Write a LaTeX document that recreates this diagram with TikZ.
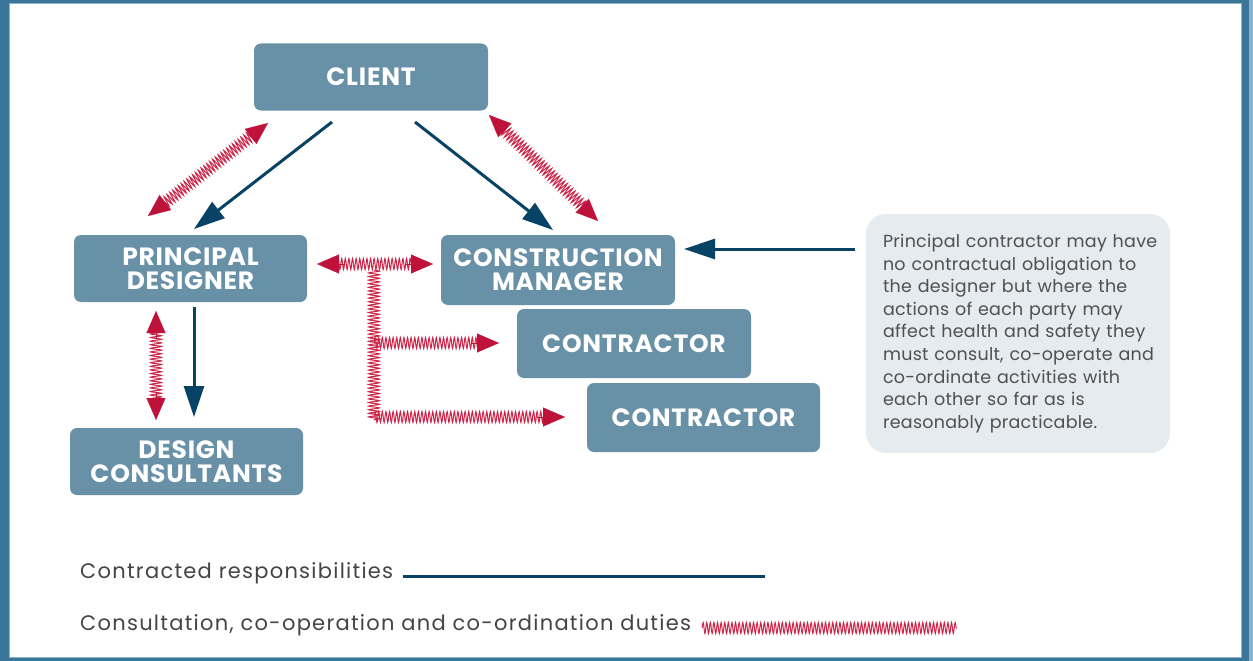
\documentclass[tikz,border=0pt]{standalone}
\usepackage{fontspec}
\setmainfont{Poppins}
\usetikzlibrary{arrows.meta,decorations.pathmorphing,calc}
\definecolor{frameblue}{RGB}{58,117,154}
\definecolor{framelight}{RGB}{140,178,204}
\definecolor{boxfill}{RGB}{104,145,168}
\definecolor{navy}{RGB}{8,67,101}
\definecolor{crimson}{RGB}{190,18,58}
\definecolor{zzred}{RGB}{205,40,75}
\definecolor{notefill}{RGB}{230,235,239}
\definecolor{txtgray}{RGB}{68,68,68}
\definecolor{notegray}{RGB}{80,80,80}
\tikzset{
  party/.style={fill=boxfill, rounded corners=7pt, text=white,
    font=\fontsize{25}{24}\selectfont\bfseries\addfontfeatures{LetterSpace=3}, align=center, inner sep=0pt},
  contracted/.style={draw=navy, line width=3pt, -{Triangle[length=31pt,width=20pt]}},
  zz/.style={draw=zzred, line width=1pt, decorate,
    decoration={snake, segment length=3.6pt, amplitude=5.5pt}},
  ztip/.style={draw=crimson, fill=crimson, line width=0.1pt, -{Triangle[length=22pt,width=19pt]}},
  legendtext/.style={anchor=base west, text=txtgray,
    font=\fontsize{21}{24}\selectfont\addfontfeatures{LetterSpace=6}, inner sep=0pt},
}
\newcommand\zzboth[2]{%
  \draw[zz] ($(#1)!20pt!(#2)$) -- ($(#2)!20pt!(#1)$);
  \draw[ztip] ($(#1)!28pt!(#2)$) -- (#1);
  \draw[ztip] ($(#2)!28pt!(#1)$) -- (#2);
}
\newcommand\zzone[2]{%
  \draw[zz] (#1) -- ($(#2)!20pt!(#1)$);
  \draw[ztip] ($(#2)!28pt!(#1)$) -- (#2);
}
\begin{document}
\begin{tikzpicture}[x=1pt,y=-1pt]
\useasboundingbox (0,0) rectangle (1253,661);
% frame
\fill[frameblue] (0,0) rectangle (1253,661);
\fill[framelight] (1249,0) rectangle (1253,661);
\fill[white] (9,4) rectangle (1241,657);
\draw[framelight, line width=1pt] (9,4) rectangle (1241,657);

% parties
\node[party, minimum width=234pt, minimum height=67pt] (client) at (371,77) {CLIENT};
\node[party, minimum width=233pt, minimum height=67pt] (pd) at (190.5,268.5) {PRINCIPAL\\DESIGNER};
\node[party, minimum width=234pt, minimum height=70pt] (cm) at (558,270) {CONSTRUCTION\\MANAGER};
\node[party, minimum width=234pt, minimum height=69pt] (c1) at (634,343.5) {CONTRACTOR};
\node[party, minimum width=233pt, minimum height=69pt] (c2) at (703.5,417.5) {CONTRACTOR};
\node[party, minimum width=233pt, minimum height=67pt] (dc) at (186.5,461.5) {DESIGN\\CONSULTANTS};

% note
\node[fill=notefill, rounded corners=20pt, text width=287pt, inner xsep=8.5pt, inner ysep=0pt,
  minimum height=239pt, align=right, text=notegray,
  font=\fontsize{17.5}{22.6}\selectfont\addfontfeatures{LetterSpace=1.5}] (note) at (1018,333.5)
  {\parbox{278.5pt}{\raggedright Principal contractor may have\\no contractual obligation to\\the designer but where the\\actions of each party may\\affect health and safety they\\must consult, co-operate and\\co-ordinate activities with\\each other so far as is\\reasonably practicable.}};

% anchor coordinates
\coordinate (clA) at (332,122);  \coordinate (pdA) at (194,229);
\coordinate (clB) at (415,122);  \coordinate (cmA) at (553,230);
\coordinate (pdB) at (194,307);  \coordinate (dcA) at (194,417);
\coordinate (noteA) at (855,249); \coordinate (cmB) at (684,249);

\coordinate (clR1) at (268,123); \coordinate (pdR1) at (148,216);
\coordinate (clR2) at (489,115); \coordinate (cmR2) at (598,221);
\coordinate (pdR3) at (156,311); \coordinate (dcR3) at (156,420);
\coordinate (pdR4) at (317,264); \coordinate (cmR4) at (433,264);
\coordinate (tTop) at (374,270); \coordinate (tBot) at (374,420);
\coordinate (tMid1) at (374,343); \coordinate (c1R) at (499,343);
\coordinate (tMid2) at (374,417); \coordinate (c2R) at (565,417);

% contracted responsibilities
\draw[contracted] (clA) -- (pdA);
\draw[contracted] (clB) -- (cmA);
\draw[contracted] (pdB) -- (dcA);
\draw[contracted] (noteA) -- (cmB);

% consultation duties
\zzboth{clR1}{pdR1}
\zzboth{clR2}{cmR2}
\zzboth{pdR3}{dcR3}
\zzboth{pdR4}{cmR4}
\draw[zz] (tTop) -- (tBot);
\zzone{tMid1}{c1R}
\zzone{tMid2}{c2R}

% legend
\node[legendtext] (lg1) at (80,578) {Contracted responsibilities};
\node[legendtext] (lg2) at (80,630) {Consultation, co-operation and co-ordination duties};
\coordinate (lgA) at (403,576); \coordinate (lgB) at (765,576);
\coordinate (lzA) at (702,628); \coordinate (lzB) at (957,628);
\draw[navy, line width=3pt] (lgA) -- (lgB);
\draw[zz] (lzA) -- (lzB);
\end{tikzpicture}
\end{document}
